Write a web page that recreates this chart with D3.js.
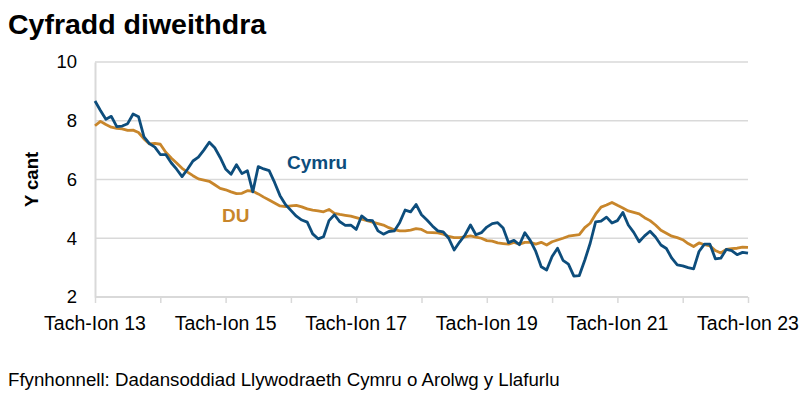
<!DOCTYPE html>
<html><head><meta charset="utf-8">
<script src="https://cdn.jsdelivr.net/npm/d3@7"></script>
<style>body{margin:0;background:#fff}svg{display:block}text{font-family:"Liberation Sans",Arial,sans-serif}</style>
</head><body><svg id="c" width="808" height="393"></svg>
<script>
const months = d3.range(121);
const tickLabels = ["Tach-Ion 13","Tach-Ion 15","Tach-Ion 17","Tach-Ion 19","Tach-Ion 21","Tach-Ion 23"];
const yTicks = [2,4,6,8,10];
const cymru = [8.67,8.35,8.05,8.15,7.8,7.82,7.9,8.23,8.14,7.45,7.22,7.1,6.85,6.85,6.57,6.35,6.1,6.35,6.63,6.76,
7.0,7.27,7.08,6.75,6.36,6.18,6.5,6.2,6.3,5.58,6.44,6.36,6.3,5.9,5.45,5.15,4.95,4.75,4.62,4.55,
4.15,3.98,4.05,4.6,4.8,4.56,4.44,4.45,4.3,4.76,4.62,4.6,4.25,4.14,4.23,4.25,4.54,4.96,4.9,5.15,
4.8,4.62,4.42,4.25,4.22,4.0,3.6,3.87,4.11,4.45,4.12,4.19,4.38,4.5,4.53,4.35,3.85,3.93,3.78,4.19,
3.92,3.55,3.03,2.92,3.38,3.66,3.25,3.12,2.71,2.73,3.25,3.83,4.56,4.58,4.72,4.52,4.6,4.88,4.45,4.2,
3.88,4.08,4.24,4.04,3.77,3.65,3.32,3.09,3.06,3.0,2.96,3.55,3.8,3.8,3.3,3.32,3.62,3.58,3.44,3.52,3.49];
const du = [7.83,7.98,7.87,7.78,7.74,7.72,7.67,7.68,7.6,7.38,7.21,7.23,7.2,6.93,6.73,6.56,6.38,6.25,6.13,6.02,
5.98,5.94,5.82,5.7,5.65,5.58,5.52,5.53,5.62,5.6,5.51,5.4,5.3,5.2,5.1,5.08,5.1,5.12,5.07,5.0,
4.96,4.93,4.9,4.98,4.85,4.81,4.78,4.75,4.7,4.65,4.6,4.55,4.5,4.45,4.36,4.29,4.25,4.25,4.28,4.33,
4.3,4.2,4.19,4.18,4.14,4.06,4.02,4.02,4.05,4.08,4.04,4.0,3.92,3.9,3.84,3.82,3.8,3.86,3.8,3.86,
3.86,3.8,3.86,3.77,3.88,3.94,4.0,4.07,4.1,4.12,4.36,4.51,4.82,5.06,5.13,5.22,5.12,5.03,4.93,4.88,
4.83,4.7,4.6,4.45,4.27,4.17,4.07,4.02,3.95,3.82,3.72,3.84,3.78,3.74,3.58,3.5,3.62,3.65,3.66,3.7,3.69];

const svg = d3.select("#c");
const L=95,R=748,T=62,B=297;
const x = d3.scaleLinear().domain([0,120]).range([L,R]);
const y = d3.scaleLinear().domain([2,10]).range([B,T]);
const grid="#d9d9d9";

svg.append("text").attr("x",8).attr("y",34).attr("font-size",28.5).attr("font-weight","bold").attr("fill","#000").text("Cyfradd diweithdra");

svg.append("g").selectAll("line").data(yTicks.filter(d=>d>2)).join("line")
  .attr("x1",L).attr("x2",R).attr("y1",d=>y(d)).attr("y2",d=>y(d)).attr("stroke",grid).attr("stroke-width",1.3);
const ya = svg.append("g").attr("transform",`translate(${L},0)`).call(d3.axisLeft(y).tickValues(yTicks).tickSize(0).tickPadding(18));
ya.select(".domain").attr("stroke",grid).attr("stroke-width",2);
ya.selectAll("text").attr("font-size",18.5).attr("fill","#000").style("font-family","Liberation Sans, Arial, sans-serif");
const xa = svg.append("g").attr("transform",`translate(0,${B})`).call(d3.axisBottom(x).tickValues(d3.range(0,121,12)).tickSize(6).tickFormat(()=>""));
xa.select(".domain").attr("stroke",grid).attr("stroke-width",2).attr("d",`M${L},0H${R}`);
xa.selectAll(".tick line").attr("stroke",grid).attr("stroke-width",1.5);
svg.append("g").selectAll("text").data(tickLabels).join("text")
  .attr("x",(d,i)=>x(i*24)).attr("y",B+33).attr("text-anchor","middle").attr("font-size",19.5).attr("fill","#000").text(d=>d);

svg.append("text").attr("transform",`translate(38,${(T+B)/2}) rotate(-90)`).attr("text-anchor","middle")
  .attr("font-size",18.5).attr("font-weight","bold").text("Y cant");

const line = d3.line().x((d,i)=>x(months[i])).y(d=>y(d));
svg.append("path").datum(du).attr("d",line).attr("fill","none").attr("stroke","#c8862b").attr("stroke-width",2.8).attr("stroke-linejoin","round");
svg.append("path").datum(cymru).attr("d",line).attr("fill","none").attr("stroke","#0d4d7c").attr("stroke-width",2.8).attr("stroke-linejoin","round");

svg.append("text").attr("x",287).attr("y",169).attr("font-size",19).attr("font-weight","bold").attr("fill","#0d4d7c").text("Cymru");
svg.append("text").attr("x",222).attr("y",222).attr("font-size",19).attr("font-weight","bold").attr("fill","#c8862b").text("DU");

svg.append("text").attr("x",8).attr("y",386).attr("font-size",18.7).attr("fill","#000").text("Ffynhonnell: Dadansoddiad Llywodraeth Cymru o Arolwg y Llafurlu");
</script></body></html>
